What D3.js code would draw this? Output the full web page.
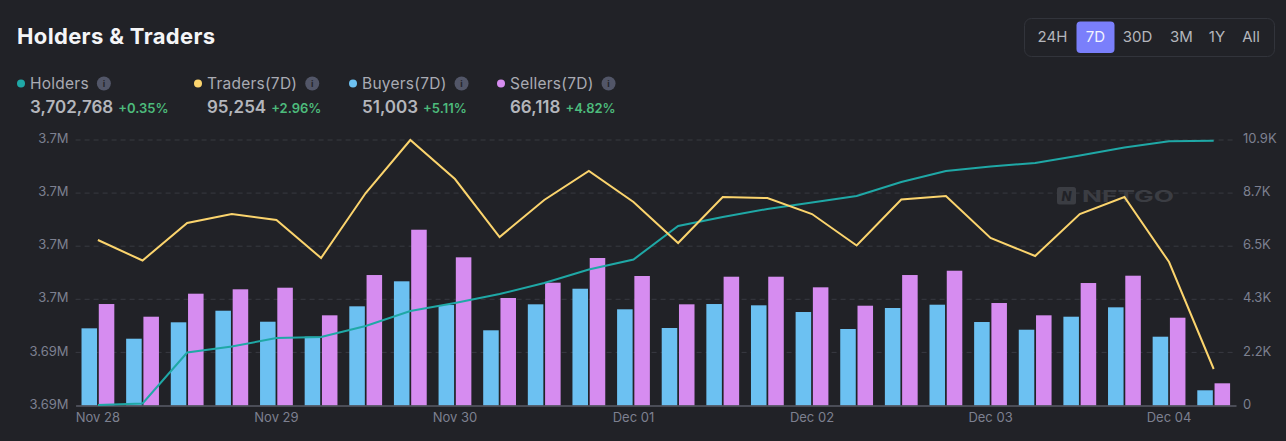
<!DOCTYPE html>
<html>
<head>
<meta charset="utf-8">
<script src="https://cdnjs.cloudflare.com/ajax/libs/d3/7.8.5/d3.min.js"></script>
<style>
html,body{margin:0;padding:0;background:#212227;overflow:hidden}
svg{display:block}
text{font-family:Inter,"Noto Sans",sans-serif}
</style>
</head>
<body>
<svg id="chart" width="1286" height="441"></svg>
<script>
const dates = ['Nov 28','Nov 28b','Nov 28c','Nov 28d','Nov 29','Nov 29b','Nov 29c','Nov 29d','Nov 30','Nov 30b','Nov 30c','Nov 30d','Dec 01','Dec 01b','Dec 01c','Dec 01d','Dec 02','Dec 02b','Dec 02c','Dec 02d','Dec 03','Dec 03b','Dec 03c','Dec 03d','Dec 04','Dec 04b'];
const holders = [3690024,3690096,3692555,3692844,3693254,3693302,3693833,3694556,3694942,3695375,3695906,3696557,3697039,3698654,3699088,3699474,3699787,3700100,3700775,3701305,3701522,3701691,3702053,3702438,3702740,3702768];
const traders = [6769,5930,7464,7832,7587,6033,8691,10860,9264,6892,8405,9591,8323,6646,8528,8487,7832,6544,8425,8569,6851,6115,7832,8528,5869,1493];
const buyers = [3157,2732,3403,3877,3427,2814,4057,5080,4110,3076,4139,4777,3935,3170,4151,4098,3824,3129,3988,4123,3415,3100,3632,4016,2814,622];
const sellers = [4151,3632,4573,4753,4818,3689,5337,7190,6061,4397,5023,6033,5297,4139,5268,5268,4834,4082,5337,5513,4192,3689,5010,5309,3591,908];
const xTicks = ['Nov 28','Nov 29','Nov 30','Dec 01','Dec 02','Dec 03','Dec 04'];
const leftTicks = [3690000,3692560,3695120,3697680,3700240,3702800];
const rightTicks = [0,2172,4344,6516,8688,10860];
const legendItems = [
  {name:'Holders',value:'3,702,768',pct:'+0.35%',color:'#1fa8a6',x:17},
  {name:'Traders(7D)',value:'95,254',pct:'+2.96%',color:'#fbd46d',x:194},
  {name:'Buyers(7D)',value:'51,003',pct:'+5.11%',color:'#6cc1f2',x:349},
  {name:'Sellers(7D)',value:'66,118',pct:'+4.82%',color:'#d68cf0',x:497}
];
const ranges = ['24H','7D','30D','3M','1Y','All'];
const rangeCenters = [1052.5,1095.5,1137.5,1181.5,1217,1251];

const svg = d3.select('#chart');
const top_ = 140, bottom = 405.5, left = 75.6, right = 1236;

svg.append('text').attr('x',17).attr('y',44).attr('font-size',22).attr('font-weight',700).attr('letter-spacing',0.35).attr('fill','#f4f5f7').text('Holders & Traders');

// legend
legendItems.forEach(d => {
  const g = svg.append('g').attr('transform','translate('+d.x+',0)');
  g.append('circle').attr('cx',4).attr('cy',83.5).attr('r',4).attr('fill',d.color);
  const label = g.append('text').attr('x',13).attr('y',89).attr('font-size',15.5).attr('letter-spacing',0.25).attr('fill','#a9abb3').text(d.name);
  const w = label.node().getComputedTextLength();
  g.append('circle').attr('cx',13+w+15).attr('cy',83.5).attr('r',7).attr('fill','#525668');
  g.append('text').attr('x',13+w+15).attr('y',87).attr('text-anchor','middle').attr('font-size',9).attr('font-weight',700).attr('fill','#23242a').text('i');
  const val = g.append('text').attr('x',13).attr('y',112.5).attr('font-size',17).attr('font-weight',600).attr('fill','#b4b6bc').text(d.value);
  const vw = val.node().getComputedTextLength();
  g.append('text').attr('x',13+vw+5).attr('y',112.5).attr('font-size',13).attr('font-weight',600).attr('fill','#4dbb7c').text(d.pct);
});

// range switch
svg.append('rect').attr('x',1024.5).attr('y',18.5).attr('width',250).attr('height',38).attr('rx',7).attr('fill','none').attr('stroke','#32343b');
svg.append('rect').attr('x',1076.5).attr('y',21.5).attr('width',38).attr('height',31.5).attr('rx',4).attr('fill','#7a7ffb');
svg.selectAll('text.range').data(ranges).join('text').attr('class','range')
  .attr('x',(d,i) => rangeCenters[i]).attr('y',42).attr('text-anchor','middle').attr('font-size',15)
  .attr('fill',d => d === '7D' ? '#f2f3ff' : '#b4b6bc').text(d => d);

// scales
const x = d3.scaleBand().domain(dates).range([left,right]);
const xInner = d3.scaleBand().domain(['buyers','sellers']).range([x.bandwidth()/2-16.4,x.bandwidth()/2+16.4]).paddingInner(0.1);
const yLeft = d3.scaleLinear().domain([3690000,3702800]).range([bottom,top_]);
const yRight = d3.scaleLinear().domain([0,10860]).range([bottom,top_]);
const cx = d => x(d)+x.bandwidth()/2;

// grid
svg.append('g').selectAll('line').data(rightTicks.slice(1)).join('line')
  .attr('x1',left).attr('x2',right).attr('y1',d => yRight(d)).attr('y2',d => yRight(d))
  .attr('stroke','#383a41').attr('stroke-dasharray','5 4');

// watermark
const wm = svg.append('g').attr('fill','#3b3d43');
wm.append('rect').attr('x',1057).attr('y',187).attr('width',19).attr('height',17.5).attr('rx',2.5);
wm.append('text').attr('x',1066.5).attr('y',200.5).attr('text-anchor','middle').attr('font-size',13).attr('font-weight',800).attr('font-style','italic').attr('fill','#212227').text('N');
wm.append('text').attr('x',1082).attr('y',201.5).attr('font-size',15.5).attr('font-weight',700).attr('textLength',92).attr('lengthAdjust','spacingAndGlyphs').text('NFTGO');

// bars
const bars = [{key:'buyers',vals:buyers,color:'#6cc1f2'},{key:'sellers',vals:sellers,color:'#d68cf0'}];
bars.forEach(s => {
  svg.append('g').selectAll('rect').data(s.vals).join('rect')
    .attr('x',(d,i) => x(dates[i])+xInner(s.key))
    .attr('width',xInner.bandwidth())
    .attr('y',d => yRight(d))
    .attr('height',d => bottom-yRight(d))
    .attr('fill',s.color);
});

// axes
const axisX = svg.append('g').attr('transform','translate(0,'+bottom+')')
  .call(d3.axisBottom(x).tickValues(xTicks).tickSize(0).tickPadding(7));
axisX.select('.domain').attr('stroke','#5a5d68').attr('stroke-width',1.5);
axisX.selectAll('text').attr('font-size',13).attr('fill','#7d8090').attr('font-family','Inter');

const fmtLeft = v => +(v/1e6).toFixed(2)+'M';
const fmtRight = v => v === 0 ? '0' : (v/1000).toFixed(1)+'K';
const axisL = svg.append('g').attr('transform','translate('+left+',0)')
  .call(d3.axisLeft(yLeft).tickValues(leftTicks).tickFormat(fmtLeft).tickSize(0).tickPadding(7));
axisL.select('.domain').remove();
axisL.selectAll('text').attr('font-size',13).attr('fill','#7d8090').attr('font-family','Inter').attr('dy','0.2em');
const axisR = svg.append('g').attr('transform','translate('+right+',0)')
  .call(d3.axisRight(yRight).tickValues(rightTicks).tickFormat(fmtRight).tickSize(0).tickPadding(7));
axisR.select('.domain').remove();
axisR.selectAll('text').attr('font-size',13).attr('fill','#7d8090').attr('font-family','Inter').attr('dy','0.2em');

// lines
const traderLine = d3.line().x((d,i) => cx(dates[i])).y(d => yRight(d));
const holderLine = d3.line().x((d,i) => cx(dates[i])).y(d => yLeft(d));
svg.append('path').datum(holders).attr('fill','none').attr('stroke','#1fa8a6').attr('stroke-width',2).attr('d',holderLine);
svg.append('path').datum(traders).attr('fill','none').attr('stroke','#fbd46d').attr('stroke-width',2).attr('d',traderLine);
</script>
</body>
</html>
